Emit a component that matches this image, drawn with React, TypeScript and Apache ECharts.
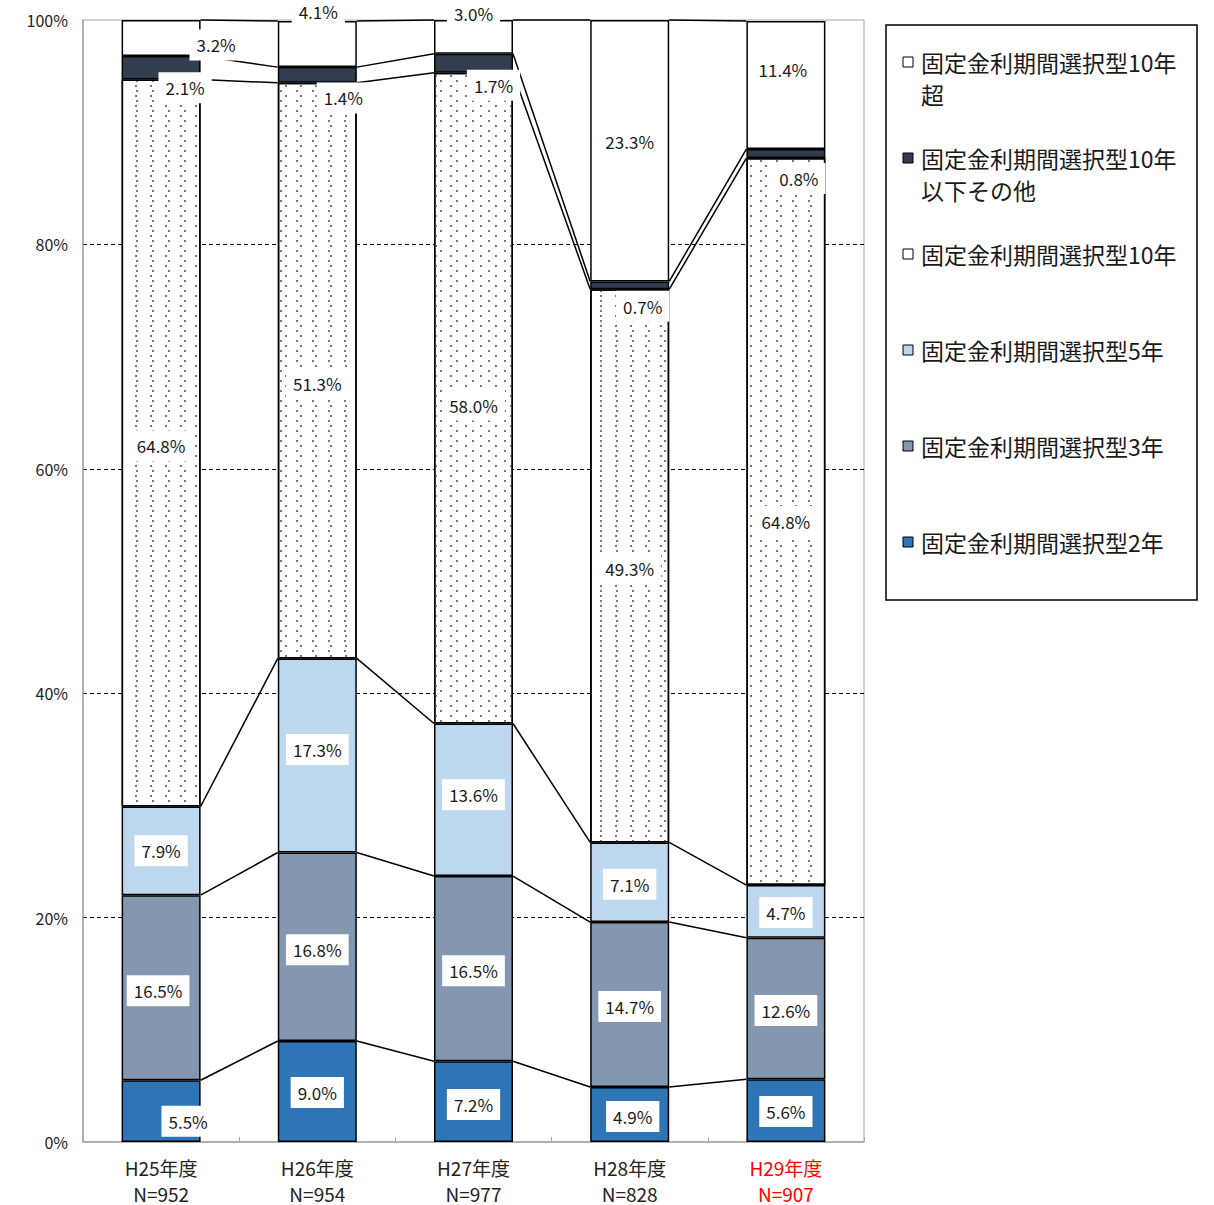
import React, { useEffect, useRef } from "react";
import * as echarts from "echarts";

const categories = ["H25年度\nN=952", "H26年度\nN=954", "H27年度\nN=977", "H28年度\nN=828", "H29年度\nN=907"];
const highlightCategory = "H29年度\nN=907";

const seriesNames = [
  "固定金利期間選択型2年",
  "固定金利期間選択型3年",
  "固定金利期間選択型5年",
  "固定金利期間選択型10年",
  "固定金利期間選択型10年以下その他",
  "固定金利期間選択型10年超",
];
const legendTexts = [
  "固定金利期間選択型10年\n超",
  "固定金利期間選択型10年\n以下その他",
  "固定金利期間選択型10年",
  "固定金利期間選択型5年",
  "固定金利期間選択型3年",
  "固定金利期間選択型2年",
];

const fixed2 = [5.5, 9.0, 7.2, 4.9, 5.6];
const fixed3 = [16.5, 16.8, 16.5, 14.7, 12.6];
const fixed5 = [7.9, 17.3, 13.6, 7.1, 4.7];
const fixed10 = [64.8, 51.3, 58.0, 49.3, 64.8];
const fixed10Other = [2.1, 1.4, 1.7, 0.7, 0.8];
const fixedOver10 = [3.2, 4.1, 3.0, 23.3, 11.4];

const yTickInterval = 20;

const seriesValues = [fixed2, fixed3, fixed5, fixed10, fixed10Other, fixedOver10];
const seriesColors = ["#2E75B6", "#8497B0", "#BDD7EE", "#FFFFFF", "#323E4F", "#FFFFFF"];

// label offsets [dx, dy] per series, per category (layout only)
const labelOffsets = [
  [[27, 10], [0, 1], [0, 3], [3, 2], [0, 1]],
  [[-3, 3], [0, 3], [0, 2], [0, 2], [0, 2]],
  [[0, 0], [0, -6], [0, -5], [0, 2], [0, 1]],
  [[0, 3], [0, 13], [0, 7], [0, 3], [0, 0]],
  [[24, 20], [26, 23], [20, 22], [13, 21], [13, 25]],
  [[55, 7], [1, -33], [0, -23], [0, -9], [-3, -16]],
];

const FONT = "'Noto Sans CJK JP', 'Noto Sans', sans-serif";
const BAR_WIDTH = 79;

export default function App() {
  const ref = useRef<HTMLDivElement>(null);

  useEffect(() => {
    document.body.style.margin = "0";
    if (!ref.current) return;
    const chart = echarts.init(ref.current, undefined, { renderer: "svg" });

    const cum: number[][] = categories.map((_, i) => {
      let s = 0;
      return seriesValues.map((arr) => {
        s += arr[i];
        return s;
      });
    });
    const lineData = categories.slice(0, -1).map((_, i) => [i, ...cum[i], ...cum[i + 1]]);

    const barSeries = seriesValues.map((arr, k) => ({
      name: seriesNames[k],
      type: "bar",
      stack: "total",
      barWidth: BAR_WIDTH,
      z: 2,
      itemStyle: {
        color: seriesColors[k],
        borderColor: "#000",
        borderWidth: 1.5,
        ...(k === 3
          ? {
              decal: {
                symbol: "rect",
                symbolSize: 1,
                color: "#6f7a8c",
                dashArrayX: [
                  [2, 13],
                  [0, 7.5, 2, 5.5],
                ],
                dashArrayY: [2, 3],
              },
            }
          : {}),
      },
      label: {
        show: true,
        position: "inside",
        formatter: (p: any) => `${Number(p.value).toFixed(1)}%`,
        fontFamily: FONT,
        fontSize: 17,
        color: "#1a1a1a",
        backgroundColor: "#fff",
        padding: [7, 7],
      },
      data: arr.map((v, i) => ({
        value: v,
        label: { offset: labelOffsets[k][i] },
      })),
    }));

    const n = seriesValues.length;
    const lineSeries = {
      type: "custom",
      z: 1,
      silent: true,
      encode: { x: 0, y: 1 },
      data: lineData,
      renderItem: (params: any, api: any) => {
        const i = api.value(0);
        const half = BAR_WIDTH / 2;
        const children: any[] = [];
        for (let k = 0; k < n; k++) {
          const a = api.coord([i, api.value(1 + k)]);
          const b = api.coord([i + 1, api.value(1 + n + k)]);
          children.push({
            type: "line",
            shape: { x1: a[0] + half, y1: a[1], x2: b[0] - half, y2: b[1] },
            style: { stroke: "#000", lineWidth: 1.5 },
          });
        }
        return { type: "group", children };
      },
    };

    const legendOrder = [5, 4, 3, 2, 1, 0];
    const legendGraphics: any[] = [
      {
        type: "rect",
        shape: { x: 886, y: 25, width: 311, height: 575 },
        style: { fill: "#fff", stroke: "#000", lineWidth: 1.5 },
        z: 10,
      },
    ];
    legendOrder.forEach((k, j) => {
      const yc = 62 + 96 * j;
      legendGraphics.push({
        type: "rect",
        shape: { x: 903, y: yc - 5, width: 10, height: 10 },
        style: { fill: seriesColors[k], stroke: "#000", lineWidth: 1 },
        z: 11,
      });
      legendGraphics.push({
        type: "text",
        x: 921,
        y: yc - 16,
        z: 11,
        style: {
          text: legendTexts[j],
          font: `23px ${FONT}`,
          lineHeight: 32,
          fill: "#1a1a1a",
          verticalAlign: "top",
          align: "left",
        },
      });
    });

    chart.setOption({
      animation: false,
      backgroundColor: "#fff",
      textStyle: { fontFamily: FONT },
      grid: {
        left: 83,
        right: 350,
        top: 20,
        bottom: 63,
        show: true,
        borderColor: "#a6a6a6",
        borderWidth: 1,
        outerBoundsMode: "none",
        containLabel: false,
      },
      xAxis: {
        type: "category",
        data: categories.map((c) =>
          c === highlightCategory ? { value: c, textStyle: { color: "#ff0000" } } : c
        ),
        axisLine: { lineStyle: { color: "#a6a6a6", width: 1.5 } },
        axisTick: { show: true, inside: true, length: 5, lineStyle: { color: "#a6a6a6" } },
        axisLabel: {
          fontFamily: FONT,
          fontSize: 19,
          lineHeight: 26,
          margin: 12,
          color: "#222",
        },
      },
      yAxis: {
        type: "value",
        min: 0,
        max: 100,
        interval: yTickInterval,
        axisLine: { show: true, lineStyle: { color: "#a6a6a6", width: 1.5 } },
        axisTick: { show: false },
        axisLabel: {
          formatter: "{value}%",
          fontFamily: FONT,
          fontSize: 16,
          margin: 15,
          color: "#222",
        },
        splitLine: {
          show: true,
          lineStyle: {
            type: [4, 3],
            width: 1,
            color: ["rgba(0,0,0,0)", "#000", "#000", "#000", "#000", "rgba(0,0,0,0)"],
          },
        },
      },
      series: [...barSeries, lineSeries],
      graphic: legendGraphics,
    });

    return () => chart.dispose();
  }, []);

  return <div ref={ref} style={{ width: 1214, height: 1205 }} />;
}
